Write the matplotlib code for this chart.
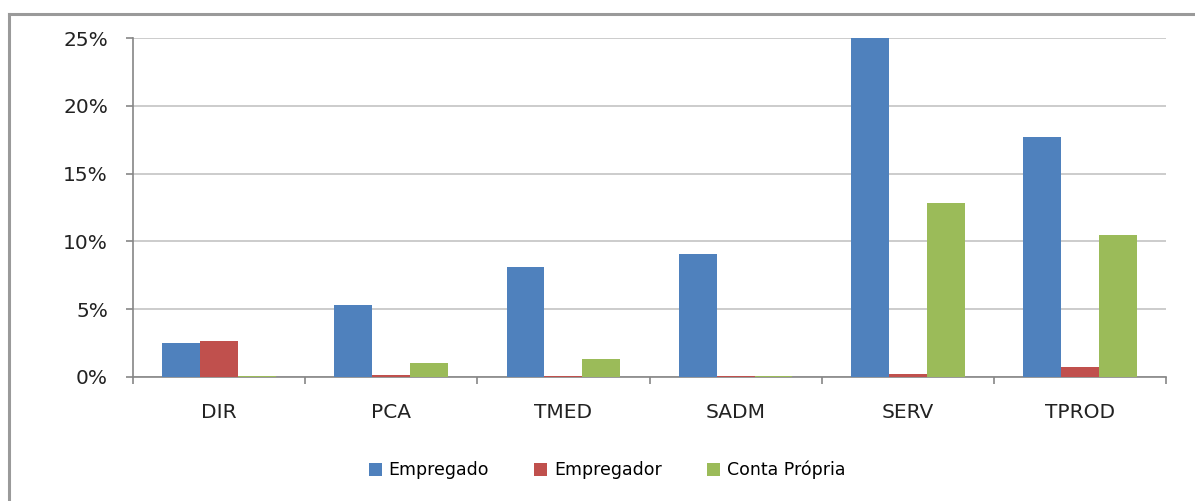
import numpy as np
import matplotlib
matplotlib.use("Agg")
import matplotlib.pyplot as plt
from matplotlib.lines import Line2D
from matplotlib.ticker import FuncFormatter, MultipleLocator

plt.rcParams["font.family"] = ["DejaVu Sans"]

categories = ["DIR", "PCA", "TMED", "SADM", "SERV", "TPROD"]
empregado = [2.5, 5.3, 8.1, 9.1, 25.0, 17.7]
empregador = [2.65, 0.15, 0.1, 0.1, 0.2, 0.75]
conta_propria = [0.1, 1.0, 1.35, 0.1, 12.8, 10.5]

series = [("Empregado", empregado, "#4F81BD"),
          ("Empregador", empregador, "#C0504D"),
          ("Conta Própria", conta_propria, "#9BBB59")]

W, H = 1195, 501
fig = plt.figure(figsize=(W / 100, H / 100), dpi=100)
ax = fig.add_axes([133 / W, (H - 377) / H, (1166 - 133) / W, (377 - 38) / H])

x = np.arange(len(categories))
bw = 0.22
for k, (name, vals, col) in enumerate(series):
    ax.bar(x + (k - 1) * bw, vals, width=bw, color=col, label=name, zorder=3)

ax.set_xlim(-0.5, len(categories) - 0.5)
ax.set_ylim(0, 25)
ax.yaxis.set_major_locator(MultipleLocator(5))
ax.yaxis.set_major_formatter(FuncFormatter(lambda v, p: f"{v:.0f}%"))
ax.grid(axis="y", color="#c4c4c4", lw=1.2, zorder=0)

ax.set_xticks(x)
ax.set_xticklabels(categories)
ax.set_xticks(np.arange(-0.5, len(categories)), minor=True)
ax.tick_params(axis="x", which="major", length=0, pad=19, labelsize=14.5, colors="#222")
ax.tick_params(axis="x", which="minor", length=5, width=1.2, color="#868686", direction="out")
ax.tick_params(axis="y", length=5, width=1.2, color="#868686", pad=13, labelsize=14.5,
               labelcolor="#222")

for s in ("top", "right"):
    ax.spines[s].set_visible(False)
for s in ("left", "bottom"):
    ax.spines[s].set_color("#868686")
    ax.spines[s].set_linewidth(1.2)

# outer chart frame (only top and left edges visible in the crop)
fig.add_artist(Line2D([9 / W, 1.0], [(H - 14) / H] * 2, color="#9a9a9a", lw=2.2))
fig.add_artist(Line2D([9 / W] * 2, [0, (H - 14) / H], color="#9a9a9a", lw=2.2))

fig.legend(loc="center", bbox_to_anchor=(607 / W, (H - 470) / H), ncol=3, frameon=False,
           fontsize=12.5, handlelength=0.75, handleheight=0.75, handletextpad=0.4,
           columnspacing=2.6)

fig.savefig("out.png", dpi=100)
